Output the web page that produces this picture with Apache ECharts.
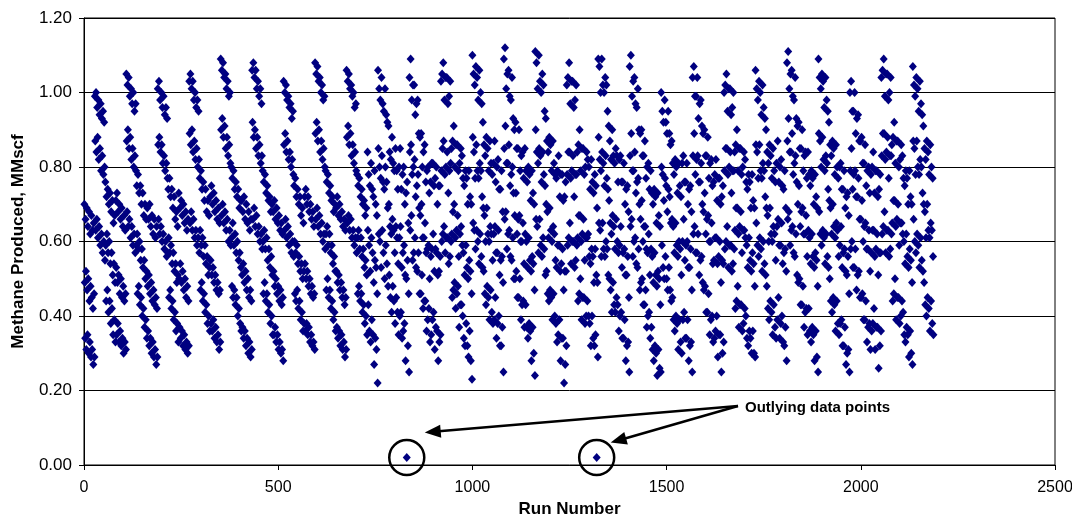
<!DOCTYPE html>
<html>
<head>
<meta charset="utf-8">
<title>Methane Produced by Run</title>
<script src="https://cdn.jsdelivr.net/npm/echarts@6/dist/echarts.min.js"></script>
<style>
  html, body { margin: 0; padding: 0; background: #fff; }
  #chart { width: 1072px; height: 517px; }
</style>
</head>
<body>
<div id="chart"></div>
<script>
// Methane produced (MMscf) for each run, in run order (run 1 first).
// Runs 1-729
const runs0001to0729 = [
  0.70,0.49,0.34, 0.66,0.52,0.31, 0.69,0.47,0.35, 0.64,0.50,0.30, 0.68,0.44,0.33, 0.62,0.48,0.29, 0.67,0.45,0.31, 0.63,0.42,0.27, 0.65,0.46,0.29,
  0.99,0.87,0.63, 1.00,0.84,0.66, 0.96,0.88,0.61, 0.98,0.82,0.64, 0.94,0.85,0.59, 0.97,0.79,0.62, 0.93,0.83,0.57, 0.95,0.78,0.60, 0.92,0.80,0.55,
  0.76,0.59,0.44, 0.72,0.62,0.47, 0.74,0.57,0.41, 0.70,0.60,0.44, 0.73,0.54,0.38, 0.68,0.57,0.42, 0.71,0.51,0.35, 0.65,0.54,0.39, 0.67,0.49,0.33,

  0.71,0.53,0.35, 0.73,0.49,0.38, 0.68,0.51,0.33, 0.70,0.46,0.36, 0.66,0.50,0.32, 0.69,0.45,0.34, 0.64,0.48,0.30, 0.67,0.44,0.33, 0.63,0.46,0.31,
  1.05,0.87,0.68, 1.02,0.90,0.64, 1.04,0.85,0.66, 0.99,0.88,0.61, 1.01,0.82,0.64, 0.97,0.85,0.59, 1.00,0.80,0.62, 0.95,0.83,0.57, 0.97,0.79,0.59,
  0.75,0.62,0.46, 0.78,0.58,0.48, 0.73,0.60,0.43, 0.75,0.55,0.45, 0.70,0.58,0.40, 0.73,0.53,0.42, 0.67,0.55,0.37, 0.70,0.50,0.39, 0.66,0.52,0.34,

  0.69,0.48,0.36, 0.66,0.51,0.32, 0.70,0.46,0.34, 0.64,0.49,0.30, 0.67,0.44,0.33, 0.62,0.47,0.29, 0.66,0.43,0.31, 0.61,0.45,0.27, 0.64,0.42,0.29,
  1.01,0.86,0.66, 1.03,0.88,0.62, 0.98,0.84,0.64, 1.00,0.86,0.60, 0.96,0.81,0.62, 0.99,0.83,0.58, 0.94,0.79,0.60, 0.96,0.81,0.56, 0.93,0.77,0.57,
  0.74,0.61,0.45, 0.77,0.57,0.47, 0.72,0.59,0.42, 0.74,0.54,0.44, 0.69,0.57,0.39, 0.72,0.52,0.41, 0.66,0.54,0.36, 0.68,0.49,0.38, 0.64,0.51,0.33,

  0.73,0.50,0.37, 0.69,0.54,0.34, 0.71,0.49,0.36, 0.67,0.52,0.32, 0.70,0.47,0.35, 0.65,0.50,0.31, 0.68,0.45,0.33, 0.63,0.48,0.30, 0.66,0.44,0.32,
  1.03,0.89,0.65, 1.05,0.86,0.68, 1.01,0.90,0.63, 1.03,0.84,0.66, 0.98,0.87,0.61, 1.00,0.82,0.63, 0.96,0.85,0.59, 0.98,0.80,0.61, 0.95,0.82,0.57,
  0.77,0.63,0.47, 0.79,0.59,0.49, 0.74,0.61,0.44, 0.76,0.56,0.46, 0.71,0.59,0.41, 0.74,0.54,0.43, 0.68,0.56,0.38, 0.71,0.51,0.40, 0.67,0.53,0.36,

  0.72,0.55,0.38, 0.75,0.51,0.36, 0.70,0.53,0.39, 0.73,0.49,0.34, 0.68,0.51,0.37, 0.71,0.47,0.33, 0.66,0.49,0.35, 0.69,0.46,0.31, 0.65,0.47,0.33,
  1.09,0.90,0.67, 1.06,0.93,0.70, 1.08,0.88,0.65, 1.04,0.91,0.68, 1.05,0.85,0.63, 1.01,0.88,0.66, 1.03,0.83,0.60, 0.99,0.86,0.63, 1.00,0.81,0.59,
  0.80,0.61,0.48, 0.77,0.65,0.45, 0.79,0.59,0.47, 0.74,0.62,0.43, 0.76,0.57,0.45, 0.72,0.60,0.40, 0.74,0.55,0.42, 0.69,0.57,0.38, 0.71,0.53,0.36,

  0.71,0.51,0.37, 0.68,0.54,0.34, 0.72,0.49,0.36, 0.66,0.52,0.32, 0.70,0.47,0.34, 0.65,0.50,0.30, 0.68,0.45,0.33, 0.63,0.47,0.29, 0.66,0.44,0.31,
  1.06,0.92,0.66, 1.08,0.88,0.69, 1.04,0.90,0.64, 1.06,0.85,0.67, 1.01,0.88,0.62, 1.03,0.83,0.64, 0.99,0.86,0.60, 1.01,0.81,0.62, 0.97,0.83,0.58,
  0.79,0.60,0.46, 0.76,0.63,0.49, 0.78,0.58,0.44, 0.73,0.61,0.46, 0.75,0.55,0.41, 0.71,0.58,0.43, 0.72,0.53,0.38, 0.68,0.56,0.40, 0.70,0.51,0.35,

  0.68,0.52,0.35, 0.71,0.48,0.37, 0.66,0.50,0.33, 0.69,0.46,0.35, 0.65,0.48,0.31, 0.67,0.44,0.33, 0.63,0.47,0.30, 0.65,0.43,0.31, 0.62,0.45,0.28,
  1.03,0.86,0.63, 1.00,0.89,0.66, 1.02,0.84,0.61, 0.98,0.87,0.64, 0.99,0.82,0.59, 0.96,0.84,0.62, 0.97,0.80,0.57, 0.93,0.82,0.60, 0.95,0.78,0.56,
  0.75,0.60,0.46, 0.77,0.57,0.44, 0.72,0.59,0.47, 0.74,0.54,0.42, 0.70,0.56,0.44, 0.72,0.52,0.39, 0.67,0.54,0.41, 0.69,0.50,0.36, 0.65,0.52,0.38,

  0.72,0.54,0.36, 0.74,0.50,0.38, 0.70,0.52,0.35, 0.72,0.48,0.37, 0.68,0.50,0.33, 0.70,0.46,0.35, 0.66,0.48,0.32, 0.68,0.45,0.33, 0.64,0.46,0.31,
  1.08,0.89,0.66, 1.05,0.92,0.69, 1.07,0.87,0.64, 1.03,0.90,0.67, 1.04,0.84,0.62, 1.00,0.87,0.65, 1.02,0.82,0.60, 0.98,0.85,0.62, 0.99,0.80,0.58,
  0.79,0.62,0.47, 0.76,0.64,0.50, 0.78,0.59,0.45, 0.73,0.62,0.47, 0.75,0.57,0.42, 0.71,0.59,0.44, 0.72,0.54,0.39, 0.68,0.56,0.41, 0.70,0.52,0.36,

  0.69,0.52,0.37, 0.72,0.49,0.34, 0.67,0.51,0.36, 0.70,0.47,0.32, 0.66,0.49,0.35, 0.68,0.45,0.31, 0.64,0.47,0.33, 0.66,0.43,0.29, 0.63,0.45,0.31,
  1.06,0.88,0.65, 1.03,0.91,0.67, 1.05,0.86,0.63, 1.01,0.89,0.66, 1.02,0.83,0.61, 0.99,0.86,0.63, 1.00,0.81,0.59, 0.96,0.84,0.61, 0.97,0.79,0.57,
  0.78,0.61,0.46, 0.75,0.63,0.48, 0.77,0.58,0.44, 0.72,0.61,0.46, 0.74,0.56,0.41, 0.70,0.58,0.43, 0.71,0.53,0.38, 0.67,0.55,0.40, 0.69,0.51,0.35
];

// Runs 730-1458
const runs0730to1458 = [
  0.84,0.63,0.43, 0.78,0.59,0.36, 0.75,0.52,0.33, 0.81,0.61,0.39, 0.74,0.57,0.35, 0.72,0.49,0.27, 0.79,0.55,0.34, 0.70,0.53,0.31, 0.67,0.46,0.22,
  1.06,0.85,0.62, 1.01,0.80,0.60, 0.98,0.77,0.53, 1.04,0.83,0.63, 0.97,0.76,0.57, 0.95,0.74,0.50, 1.01,0.80,0.59, 0.94,0.76,0.54, 0.92,0.69,0.48,
  0.91,0.70,0.51, 0.84,0.64,0.45, 0.82,0.62,0.41, 0.88,0.66,0.48, 0.81,0.63,0.44, 0.79,0.57,0.38, 0.85,0.64,0.45, 0.79,0.61,0.41, 0.74,0.54,0.35,

  0.80,0.61,0.40, 0.85,0.64,0.41, 0.74,0.53,0.34, 0.78,0.57,0.36, 0.80,0.59,0.38, 0.70,0.51,0.28, 0.73,0.50,0.02, 0.76,0.55,0.32, 0.65,0.46,0.25,
  1.04,0.84,0.63, 1.09,0.86,0.67, 0.98,0.78,0.55, 1.02,0.80,0.57, 1.02,0.82,0.61, 0.94,0.72,0.53, 0.97,0.75,0.52, 0.98,0.78,0.57, 0.89,0.69,0.46,
  0.88,0.67,0.46, 0.89,0.70,0.51, 0.80,0.61,0.42, 0.84,0.61,0.44, 0.86,0.65,0.44, 0.76,0.57,0.36, 0.79,0.58,0.39, 0.80,0.59,0.42, 0.73,0.50,0.33,

  0.76,0.56,0.35, 0.81,0.58,0.39, 0.81,0.62,0.41, 0.75,0.52,0.31, 0.77,0.58,0.37, 0.80,0.57,0.36, 0.70,0.51,0.28, 0.75,0.52,0.33, 0.75,0.56,0.35,
  1.03,0.79,0.60, 1.05,0.85,0.62, 1.08,0.87,0.64, 0.98,0.78,0.57, 1.04,0.80,0.61, 1.04,0.84,0.61, 0.97,0.73,0.54, 0.99,0.79,0.56, 1.03,0.81,0.60,
  0.85,0.62,0.45, 0.87,0.68,0.47, 0.91,0.70,0.49, 0.80,0.61,0.42, 0.86,0.63,0.46, 0.86,0.67,0.48, 0.79,0.56,0.37, 0.81,0.62,0.43, 0.85,0.64,0.43,

  0.83,0.59,0.40, 0.77,0.57,0.34, 0.75,0.51,0.32, 0.79,0.59,0.38, 0.77,0.53,0.32, 0.70,0.50,0.29, 0.79,0.55,0.36, 0.72,0.52,0.28, 0.70,0.46,0.23,
  1.10,0.88,0.65, 1.05,0.84,0.63, 1.02,0.77,0.58, 1.07,0.86,0.63, 1.04,0.79,0.60, 0.98,0.77,0.54, 1.06,0.81,0.62, 1.00,0.79,0.56, 0.97,0.72,0.53,
  0.92,0.69,0.52, 0.86,0.67,0.46, 0.83,0.60,0.43, 0.88,0.69,0.48, 0.85,0.62,0.45, 0.79,0.60,0.39, 0.87,0.64,0.47, 0.81,0.62,0.41, 0.78,0.55,0.38,

  0.81,0.62,0.39, 0.87,0.64,0.45, 0.76,0.57,0.34, 0.80,0.57,0.38, 0.82,0.63,0.40, 0.74,0.51,0.32, 0.74,0.55,0.32, 0.79,0.56,0.37, 0.68,0.49,0.25,
  1.09,0.85,0.66, 1.12,0.91,0.68, 1.01,0.81,0.58, 1.05,0.81,0.62, 1.06,0.86,0.63, 0.99,0.75,0.56, 0.98,0.78,0.55, 1.04,0.80,0.61, 0.93,0.73,0.50,
  0.90,0.67,0.50, 0.92,0.73,0.52, 0.85,0.62,0.45, 0.85,0.66,0.45, 0.90,0.67,0.50, 0.79,0.60,0.39, 0.83,0.60,0.43, 0.84,0.65,0.44, 0.77,0.54,0.37,

  0.85,0.62,0.43, 0.79,0.60,0.37, 0.76,0.53,0.34, 0.80,0.61,0.38, 0.78,0.55,0.36, 0.71,0.52,0.28, 0.79,0.56,0.37, 0.73,0.54,0.30, 0.70,0.47,0.24,
  1.11,0.90,0.66, 1.08,0.84,0.64, 1.01,0.81,0.57, 1.10,0.85,0.66, 1.03,0.83,0.59, 1.00,0.76,0.56, 1.05,0.84,0.61, 1.02,0.78,0.58, 0.95,0.75,0.51,
  0.93,0.70,0.52, 0.87,0.68,0.46, 0.84,0.61,0.44, 0.88,0.69,0.47, 0.86,0.63,0.45, 0.79,0.60,0.39, 0.87,0.64,0.46, 0.81,0.62,0.40, 0.78,0.55,0.38,

  0.77,0.53,0.33, 0.79,0.59,0.35, 0.83,0.59,0.39, 0.72,0.52,0.28, 0.78,0.54,0.34, 0.78,0.58,0.34, 0.71,0.47,0.22, 0.72,0.52,0.27, 0.76,0.52,0.32,
  1.02,0.78,0.59, 1.04,0.84,0.61, 1.08,0.84,0.65, 0.97,0.77,0.54, 1.03,0.79,0.60, 1.03,0.83,0.60, 0.96,0.72,0.53, 0.98,0.78,0.55, 1.02,0.78,0.59,
  0.84,0.61,0.44, 0.86,0.67,0.46, 0.90,0.67,0.50, 0.79,0.60,0.39, 0.85,0.62,0.45, 0.85,0.66,0.45, 0.78,0.55,0.38, 0.80,0.61,0.40, 0.84,0.61,0.44,

  0.82,0.62,0.40, 0.80,0.56,0.38, 0.74,0.54,0.32, 0.82,0.58,0.40, 0.76,0.56,0.34, 0.73,0.49,0.32, 0.78,0.58,0.35, 0.75,0.51,0.02, 0.69,0.49,0.29,
  1.09,0.88,0.65, 1.07,0.82,0.63, 1.00,0.79,0.56, 1.09,0.84,0.65, 1.02,0.81,0.58, 1.00,0.75,0.56, 1.04,0.83,0.60, 1.02,0.77,0.58, 0.95,0.74,0.51,
  0.91,0.71,0.50, 0.87,0.65,0.47, 0.82,0.62,0.41, 0.90,0.67,0.49, 0.83,0.64,0.43, 0.81,0.58,0.41, 0.85,0.66,0.45, 0.83,0.60,0.43, 0.76,0.57,0.36,

  0.82,0.59,0.40, 0.83,0.64,0.41, 0.76,0.53,0.34, 0.76,0.57,0.34, 0.81,0.58,0.39, 0.70,0.51,0.28, 0.74,0.51,0.32, 0.75,0.56,0.33, 0.68,0.45,0.25,
  1.07,0.83,0.64, 1.10,0.89,0.66, 0.99,0.79,0.56, 1.03,0.79,0.60, 1.04,0.84,0.61, 0.97,0.73,0.54, 0.96,0.76,0.53, 1.01,0.77,0.58, 0.90,0.70,0.47,
  0.89,0.66,0.49, 0.90,0.71,0.50, 0.83,0.60,0.43, 0.83,0.64,0.43, 0.87,0.64,0.47, 0.77,0.58,0.37, 0.80,0.57,0.40, 0.81,0.62,0.41, 0.74,0.51,0.34
];

// Runs 1459-2187
const runs1459to2187 = [
  0.79,0.58,0.37, 0.73,0.56,0.31, 0.70,0.49,0.28, 0.74,0.57,0.32, 0.72,0.51,0.30, 0.65,0.48,0.24, 0.73,0.52,0.31, 0.67,0.50,0.26, 0.64,0.43,0.25,
  1.00,0.80,0.59, 0.95,0.78,0.53, 0.92,0.71,0.50, 0.98,0.77,0.56, 0.92,0.75,0.50, 0.89,0.68,0.47, 0.95,0.74,0.53, 0.89,0.72,0.47, 0.86,0.65,0.44,
  0.87,0.66,0.45, 0.81,0.64,0.39, 0.78,0.57,0.36, 0.82,0.65,0.40, 0.80,0.59,0.38, 0.73,0.56,0.31, 0.81,0.60,0.39, 0.75,0.58,0.33, 0.72,0.51,0.30,

  0.81,0.60,0.39, 0.83,0.66,0.41, 0.76,0.55,0.34, 0.76,0.59,0.34, 0.81,0.60,0.39, 0.70,0.53,0.28, 0.74,0.53,0.32, 0.75,0.58,0.33, 0.68,0.47,0.25,
  1.04,0.83,0.62, 1.07,0.89,0.64, 0.99,0.78,0.57, 0.99,0.82,0.57, 1.04,0.83,0.62, 0.93,0.76,0.51, 0.97,0.76,0.55, 0.98,0.81,0.56, 0.91,0.70,0.49,
  0.89,0.68,0.47, 0.90,0.73,0.48, 0.83,0.62,0.41, 0.83,0.66,0.41, 0.88,0.67,0.46, 0.77,0.60,0.35, 0.81,0.60,0.39, 0.82,0.65,0.40, 0.75,0.54,0.33,

  0.76,0.55,0.34, 0.78,0.61,0.36, 0.82,0.61,0.40, 0.71,0.54,0.29, 0.77,0.56,0.35, 0.77,0.60,0.35, 0.70,0.49,0.25, 0.72,0.55,0.30, 0.75,0.54,0.33,
  1.00,0.79,0.58, 1.02,0.85,0.60, 1.05,0.85,0.64, 0.95,0.78,0.53, 1.01,0.80,0.59, 1.01,0.84,0.59, 0.94,0.73,0.52, 0.96,0.79,0.54, 1.00,0.79,0.58,
  0.84,0.63,0.42, 0.86,0.69,0.44, 0.90,0.69,0.48, 0.79,0.62,0.37, 0.85,0.64,0.43, 0.85,0.68,0.43, 0.78,0.57,0.36, 0.80,0.63,0.38, 0.84,0.63,0.42,

  0.82,0.61,0.40, 0.76,0.59,0.34, 0.74,0.53,0.32, 0.78,0.61,0.36, 0.76,0.55,0.34, 0.69,0.52,0.30, 0.78,0.57,0.36, 0.71,0.54,0.30, 0.69,0.48,0.29,
  1.06,0.86,0.65, 1.01,0.84,0.59, 0.98,0.77,0.56, 1.03,0.86,0.61, 1.00,0.79,0.58, 0.94,0.77,0.52, 1.02,0.81,0.60, 0.96,0.79,0.54, 0.93,0.72,0.51,
  0.90,0.69,0.48, 0.84,0.67,0.42, 0.81,0.60,0.39, 0.86,0.69,0.44, 0.83,0.62,0.41, 0.77,0.60,0.35, 0.85,0.64,0.43, 0.79,0.62,0.37, 0.76,0.55,0.34,

  0.81,0.64,0.39, 0.87,0.66,0.45, 0.76,0.59,0.34, 0.80,0.59,0.38, 0.82,0.65,0.40, 0.75,0.54,0.33, 0.74,0.57,0.32, 0.79,0.58,0.37, 0.69,0.52,0.28,
  1.08,0.87,0.66, 1.11,0.93,0.68, 1.01,0.84,0.59, 1.05,0.84,0.63, 1.06,0.89,0.64, 0.99,0.78,0.57, 0.98,0.81,0.56, 1.04,0.83,0.62, 0.93,0.76,0.51,
  0.91,0.70,0.49, 0.92,0.75,0.50, 0.85,0.64,0.43, 0.85,0.68,0.43, 0.90,0.69,0.48, 0.79,0.62,0.37, 0.83,0.62,0.41, 0.84,0.67,0.42, 0.77,0.56,0.35,

  0.84,0.63,0.42, 0.78,0.61,0.36, 0.75,0.54,0.33, 0.79,0.62,0.37, 0.77,0.56,0.35, 0.70,0.53,0.28, 0.78,0.57,0.36, 0.72,0.55,0.29, 0.69,0.48,0.25,
  1.09,0.89,0.68, 1.04,0.87,0.62, 1.01,0.80,0.59, 1.05,0.88,0.63, 1.03,0.82,0.61, 0.96,0.79,0.54, 1.04,0.83,0.62, 0.98,0.81,0.56, 0.95,0.74,0.53,
  0.92,0.71,0.50, 0.86,0.69,0.44, 0.83,0.62,0.41, 0.87,0.70,0.45, 0.85,0.64,0.43, 0.78,0.61,0.36, 0.86,0.65,0.44, 0.80,0.63,0.38, 0.77,0.56,0.35,

  0.80,0.59,0.38, 0.81,0.64,0.39, 0.74,0.53,0.32, 0.74,0.57,0.32, 0.79,0.58,0.37, 0.69,0.52,0.27, 0.72,0.51,0.30, 0.73,0.56,0.31, 0.67,0.46,0.25,
  1.00,0.79,0.58, 1.03,0.85,0.60, 0.95,0.74,0.53, 0.95,0.78,0.53, 1.00,0.79,0.58, 0.89,0.72,0.47, 0.93,0.72,0.51, 0.94,0.77,0.52, 0.87,0.66,0.45,
  0.87,0.66,0.45, 0.88,0.71,0.46, 0.81,0.60,0.39, 0.81,0.64,0.39, 0.86,0.65,0.44, 0.75,0.58,0.33, 0.79,0.58,0.37, 0.80,0.63,0.38, 0.73,0.52,0.31,

  0.78,0.57,0.36, 0.80,0.63,0.38, 0.84,0.63,0.42, 0.73,0.56,0.31, 0.79,0.58,0.37, 0.79,0.62,0.37, 0.72,0.51,0.26, 0.74,0.57,0.32, 0.78,0.57,0.36,
  1.04,0.83,0.62, 1.06,0.89,0.64, 1.09,0.89,0.68, 0.99,0.82,0.57, 1.05,0.84,0.63, 1.05,0.88,0.63, 0.98,0.77,0.56, 1.00,0.83,0.58, 1.04,0.83,0.62,
  0.86,0.65,0.44, 0.88,0.71,0.46, 0.92,0.71,0.50, 0.81,0.64,0.39, 0.87,0.66,0.45, 0.87,0.70,0.45, 0.80,0.59,0.38, 0.82,0.65,0.40, 0.86,0.65,0.44,

  0.83,0.62,0.41, 0.77,0.60,0.35, 0.75,0.54,0.33, 0.79,0.62,0.37, 0.77,0.56,0.35, 0.70,0.53,0.29, 0.79,0.58,0.36, 0.72,0.55,0.30, 0.70,0.49,0.27,
  1.07,0.87,0.66, 1.02,0.85,0.60, 0.99,0.78,0.57, 1.04,0.87,0.62, 1.01,0.80,0.59, 0.95,0.78,0.53, 1.03,0.82,0.61, 0.97,0.80,0.55, 0.94,0.73,0.52,
  0.91,0.70,0.49, 0.85,0.68,0.43, 0.82,0.61,0.40, 0.87,0.70,0.45, 0.84,0.63,0.42, 0.78,0.61,0.36, 0.86,0.65,0.44, 0.80,0.63,0.38, 0.77,0.56,0.35
];

// Axis settings
const xTicks = { min: 0, max: 2500, step: 500 };
const yTicks = { min: 0, max: 1.2, step: 0.2 };
const xTitle = 'Run Number';
const yTitle = 'Methane Produced, MMscf';
const noteText = 'Outlying data points';

const methane = runs0001to0729.concat(runs0730to1458, runs1459to2187);
const points = methane.map((v, i) => [i + 1, v]);

const FONT = '"Liberation Sans", Arial, Helvetica, sans-serif';
const chart = echarts.init(document.getElementById('chart'), null, { renderer: 'canvas' });

chart.setOption({
  animation: false,
  backgroundColor: '#ffffff',
  grid: {
    left: 84, right: 17, top: 18, bottom: 52,
    show: true, borderColor: '#000', borderWidth: 1,
    outerBoundsMode: 'none'
  },
  xAxis: {
    type: 'value',
    min: xTicks.min, max: xTicks.max, interval: xTicks.step,
    name: xTitle, nameLocation: 'middle', nameGap: 34,
    nameTextStyle: { fontFamily: FONT, fontSize: 17, fontWeight: 'bold', color: '#000' },
    axisLine: { show: true, onZero: false, lineStyle: { color: '#000', width: 1 } },
    axisTick: { show: true, inside: false, length: 5, lineStyle: { color: '#000' } },
    axisLabel: { fontFamily: FONT, fontSize: 16, color: '#000', margin: 15,
                 formatter: v => String(v) },
    splitLine: { show: false }
  },
  yAxis: {
    type: 'value',
    min: yTicks.min, max: yTicks.max, interval: yTicks.step,
    name: yTitle, nameLocation: 'middle', nameGap: 57, nameRotate: 90,
    nameTextStyle: { fontFamily: FONT, fontSize: 17, fontWeight: 'bold', color: '#000' },
    axisLine: { show: true, lineStyle: { color: '#000', width: 1 } },
    axisTick: { show: true, inside: false, length: 5, lineStyle: { color: '#000' } },
    axisLabel: { fontFamily: FONT, fontSize: 17, color: '#000', margin: 12,
                 formatter: v => v.toFixed(2) },
    splitLine: { show: true, lineStyle: { color: '#000', width: 1 } }
  },
  series: [{
    type: 'scatter',
    data: points,
    symbol: 'diamond',
    symbolSize: [8, 9],
    large: false,
    itemStyle: { color: '#000080', opacity: 1 },
    emphasis: { disabled: true }
  }]
});

// Circles and arrows pointing at the runs that produced almost nothing.
function drawNotes() {
  const lows = [];
  methane.forEach((v, i) => {
    if (v < 0.1) lows.push(chart.convertToPixel({ xAxisIndex: 0, yAxisIndex: 0 }, [i + 1, v]));
  });
  const tail = [738, 406];
  const tipOffsets = [[18, -25], [14, -15]];
  const els = [];
  lows.forEach((p, k) => {
    els.push({ type: 'circle', shape: { cx: p[0], cy: p[1], r: 17.5 },
               style: { fill: 'none', stroke: '#000', lineWidth: 2.5 }, z: 100 });
    const off = tipOffsets[k] || [15, -18];
    const tip = [p[0] + off[0], p[1] + off[1]];
    const dx = tip[0] - tail[0], dy = tip[1] - tail[1];
    const len = Math.hypot(dx, dy);
    const ux = dx / len, uy = dy / len;
    const headLen = 16, headW = 6.5;
    const base = [tip[0] - ux * headLen, tip[1] - uy * headLen];
    els.push({ type: 'line', shape: { x1: tail[0], y1: tail[1], x2: base[0] + ux * 2, y2: base[1] + uy * 2 },
               style: { stroke: '#000', lineWidth: 2.5 }, z: 100 });
    els.push({ type: 'polygon',
               shape: { points: [tip, [base[0] - uy * headW, base[1] + ux * headW], [base[0] + uy * headW, base[1] - ux * headW]] },
               style: { fill: '#000' }, z: 100 });
  });
  els.push({ type: 'text', x: 745, y: 408, z: 100,
             style: { text: noteText, fontFamily: FONT, fontSize: 15, fontWeight: 'bold',
                      fill: '#000', align: 'left', verticalAlign: 'middle' } });
  chart.setOption({ graphic: els });
}
drawNotes();
</script>
</body>
</html>
